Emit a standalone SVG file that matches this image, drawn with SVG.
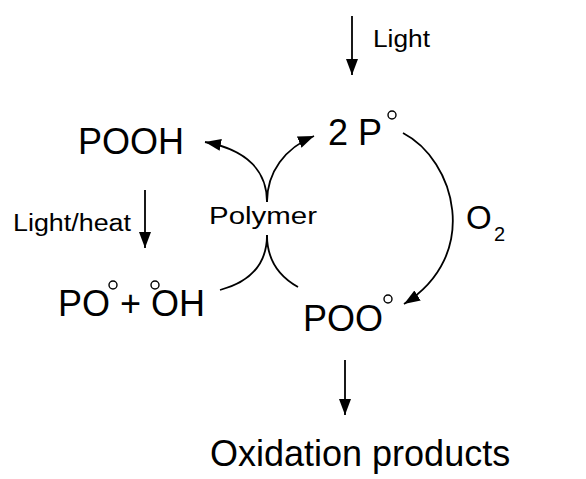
<svg xmlns="http://www.w3.org/2000/svg" width="586" height="479" viewBox="0 0 586 479">
<defs>
<style>
.big{font-family:"Liberation Sans",Arial,sans-serif;font-size:36px;fill:#000}
.small{font-family:"Liberation Sans",Arial,sans-serif;font-size:23px;fill:#000}
.c{fill:none;stroke:#000;stroke-width:1.8}
.deg{fill:none;stroke:#000;stroke-width:1.4}
</style>
<marker id="ah" markerUnits="userSpaceOnUse" markerWidth="18" markerHeight="14" refX="16" refY="6" orient="auto">
<path d="M0,0 L16,6 L0,12 z" fill="#000"/>
</marker>
</defs>
<rect width="586" height="479" fill="#fff"/>
<g id="connectors">
<path class="c" d="M352,16 L352,75" marker-end="url(#ah)"/>
<path class="c" d="M145,190 L145,248" marker-end="url(#ah)"/>
<path class="c" d="M345,360 L345,415" marker-end="url(#ah)"/>
<path class="c" d="M267,202 C267,172 248,150 205,142" marker-end="url(#ah)"/>
<path class="c" d="M267,202 C267,172 285,148 314,136" marker-end="url(#ah)"/>
<path class="c" d="M267,235 C267,265 250,282 220,290"/>
<path class="c" d="M267,235 C267,262 280,277 298,287"/>
<path class="c" d="M403,133 C455,160 482,255 404,304" marker-end="url(#ah)"/>
</g>
<g id="light"><text class="small" x="373" y="47" textLength="57" lengthAdjust="spacingAndGlyphs">Light</text></g>
<g id="p-radical"><text class="big" x="328" y="145">2 P</text><circle class="deg" cx="392" cy="115" r="4"/></g>
<g id="pooh"><text class="big" x="78" y="154">POOH</text></g>
<g id="polymer"><text class="small" x="209" y="224" textLength="108" lengthAdjust="spacingAndGlyphs">Polymer</text></g>
<g id="lightheat"><text class="small" x="13" y="231" textLength="118" lengthAdjust="spacingAndGlyphs">Light/heat</text></g>
<g id="o2"><text class="big" x="466" y="229" style="font-size:33px">O</text><text class="small" x="494" y="241" style="font-size:20px">2</text></g>
<g id="po-oh"><text class="big" x="58" y="316">PO + OH</text><circle class="deg" cx="113" cy="285" r="4"/><circle class="deg" cx="155" cy="285" r="4"/></g>
<g id="poo"><text class="big" x="303" y="331">POO</text><circle class="deg" cx="388" cy="299" r="4"/></g>
<g id="oxidation"><text class="big" x="210" y="466">Oxidation products</text></g>
</svg>
